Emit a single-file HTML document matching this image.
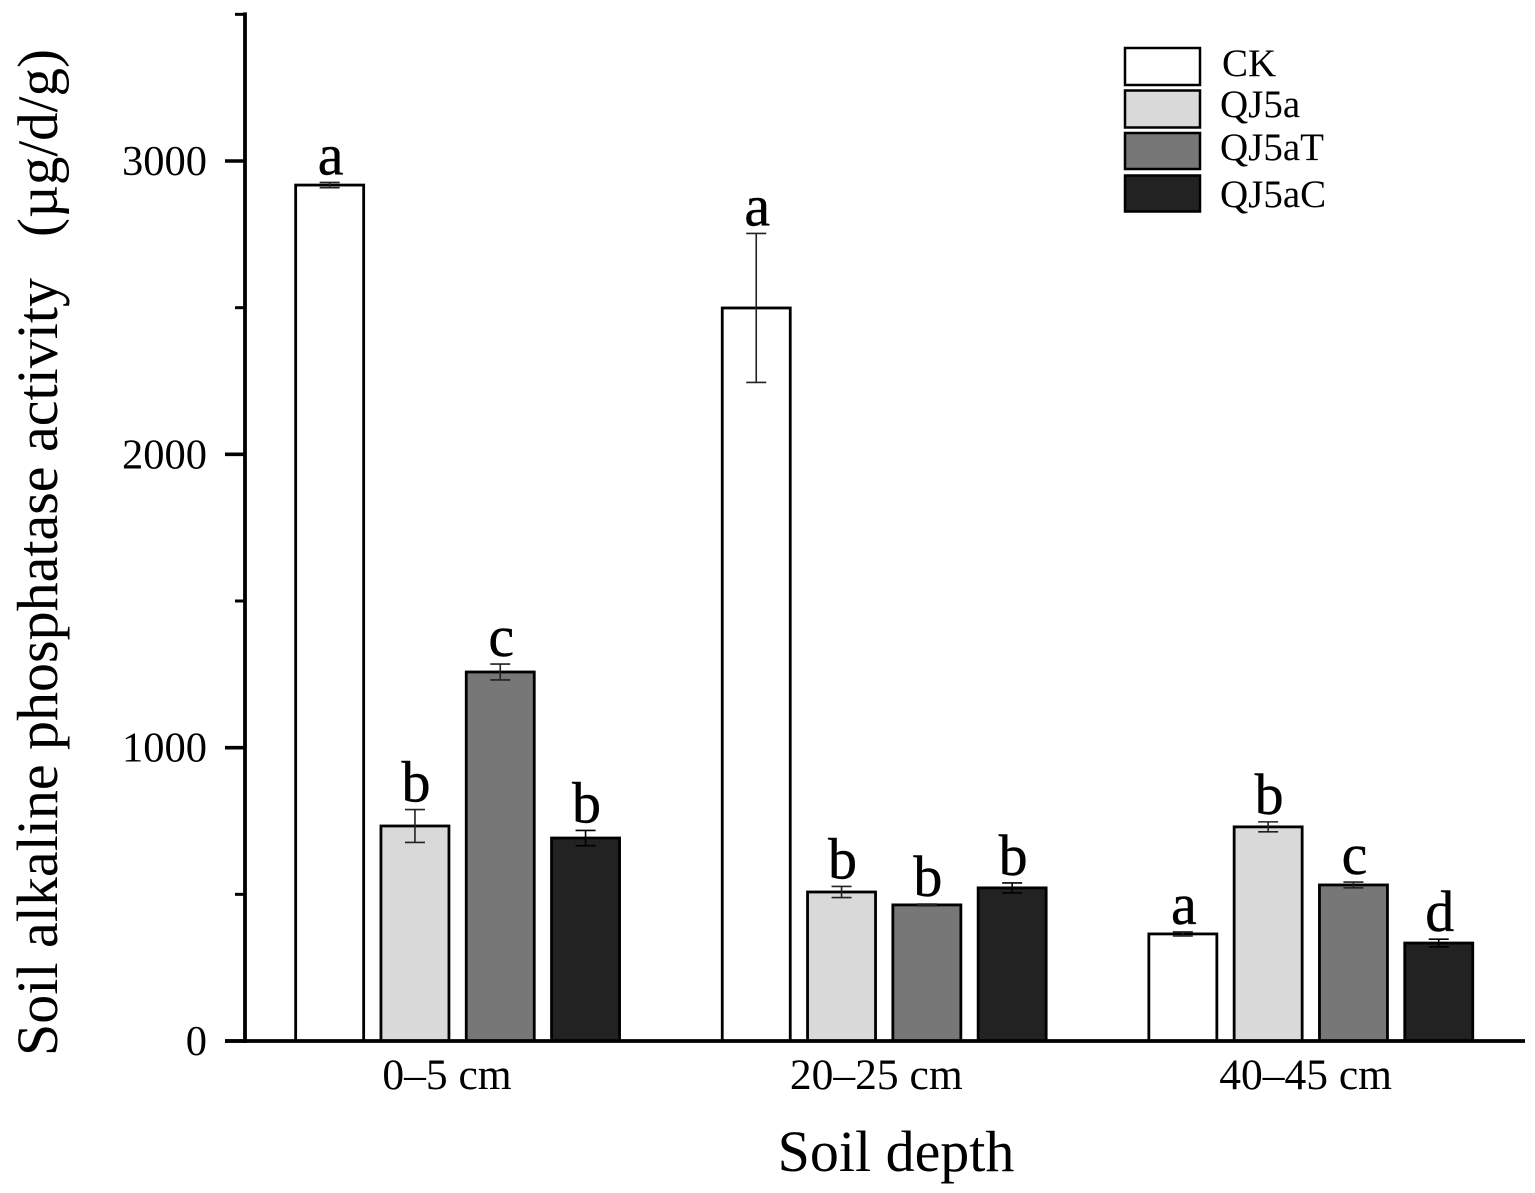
<!DOCTYPE html>
<html lang="en">
<head>
<meta charset="utf-8">
<title>Soil alkaline phosphatase activity by soil depth</title>
<style>
html,body{margin:0;padding:0;background:#fff;width:1535px;height:1193px;overflow:hidden}
svg{display:block}
text{font-family:"Liberation Serif",serif;fill:#000}
</style>
</head>
<body>
<svg id="chart" xmlns="http://www.w3.org/2000/svg" width="1535" height="1193" viewBox="0 0 1535 1193">
  <rect x="0" y="0" width="1535" height="1193" fill="#fff"/>
  <g id="bars"></g>
  <g id="errors"></g>
  <g id="letters" font-size="58" text-anchor="middle" stroke="#000" stroke-width="0.4"></g>
  <g id="yaxis"></g>
  <g id="xaxis"></g>
  <text x="896" y="1171" font-size="58" text-anchor="middle">Soil depth</text>
  <g font-size="58">
    <text transform="translate(57,1056) rotate(-90)">Soil alkaline phosphatase activity</text>
    <text font-size="57" transform="translate(57,237) rotate(-90)">(µg/d/g)</text>
  </g>
  <g font-size="39">
    <g>
      <rect x="1125" y="48" width="75" height="37" fill="#fff" stroke="#000" stroke-width="2.5"/>
      <text x="1222" y="76">CK</text>
    </g>
    <g>
      <rect x="1125" y="90.5" width="75" height="37" fill="#d9d9d9" stroke="#000" stroke-width="2.5"/>
      <text x="1220" y="117">QJ5a</text>
    </g>
    <g>
      <rect x="1125" y="133" width="75" height="36" fill="#777" stroke="#000" stroke-width="2.5"/>
      <text x="1220" y="160">QJ5aT</text>
    </g>
    <g>
      <rect x="1125" y="175.5" width="75" height="36" fill="#222" stroke="#000" stroke-width="2.5"/>
      <text x="1220" y="207">QJ5aC</text>
    </g>
  </g>
</svg>
<script>
const categories = ["0–5 cm", "20–25 cm", "40–45 cm"];
const seriesNames = ["CK", "QJ5a", "QJ5aT", "QJ5aC"];
const seriesFills = ["#ffffff", "#d9d9d9", "#777777", "#222222"];
const valuesCK = [2918, 2499, 365];
const valuesQJ5a = [733, 508, 730];
const valuesQJ5aT = [1258, 464, 532];
const valuesQJ5aC = [692, 522, 334];
const errorsCK = [9, 254, 7];
const errorsQJ5a = [56, 19, 17];
const errorsQJ5aT = [27, 3, 10];
const errorsQJ5aC = [26, 17, 13];
const lettersCK = ["a", "a", "a"];
const lettersQJ5a = ["b", "b", "b"];
const lettersQJ5aT = ["c", "b", "c"];
const lettersQJ5aC = ["b", "b", "d"];
const majorTicks = [0, 1000, 2000, 3000];
const minorTicks = [500, 1500, 2500, 3500];

const allValues = [valuesCK, valuesQJ5a, valuesQJ5aT, valuesQJ5aC];
const allErrors = [errorsCK, errorsQJ5a, errorsQJ5aT, errorsQJ5aC];
const allLetters = [lettersCK, lettersQJ5a, lettersQJ5aT, lettersQJ5aC];

const NS = "http://www.w3.org/2000/svg";
function yScale(v) { return 1041 - v * 0.29333; }
function groupCenter(i) { return 457.6 + i * 426.6; }
function barCenter(i, s) { return groupCenter(i) + (s - 1.5) * 85.3; }
function categoryLabelX(i) { return 447 + i * 429.3; }
function make(tag, parent, attrs) {
  const el = document.createElementNS(NS, tag);
  for (const k in attrs) el.setAttribute(k, attrs[k]);
  parent.appendChild(el);
  return el;
}

const barsG = document.getElementById("bars");
const errG = document.getElementById("errors");
const letG = document.getElementById("letters");
const BAR_W = 68;
const CAP = 10;

seriesNames.forEach(function (name, s) {
  categories.forEach(function (cat, i) {
    const v = allValues[s][i];
    const e = allErrors[s][i];
    const cx = barCenter(i, s);
    const top = yScale(v);

    const bar = make("rect", barsG, { x: cx - BAR_W / 2, y: top, width: BAR_W, height: yScale(0) - top, fill: seriesFills[s], stroke: "#000", "stroke-width": 2.8 });
    
    

    const hi = yScale(v + e);
    const lo = yScale(v - e);
    const eb = make("path", errG, {
      d: "M" + (cx - CAP) + " " + hi + "H" + (cx + CAP) + "M" + cx + " " + hi + "V" + lo + "M" + (cx - CAP) + " " + lo + "H" + (cx + CAP),
      fill: "none", stroke: s === 3 ? "#000" : "#222", "stroke-width": 1.6
    });
    
    

    const t = make("text", letG, { x: cx + 1, y: hi - 8 });
    t.textContent = allLetters[s][i];
    
    
  });
});

const yG = document.getElementById("yaxis");
const yLine = make("line", yG, { x1: 245, x2: 245, y1: yScale(3500) - 2, y2: yScale(0) + 2, stroke: "#000", "stroke-width": 3.8 });



majorTicks.forEach(function (v) {
  const tick = make("line", yG, { x1: 225, x2: 245, y1: yScale(v), y2: yScale(v), stroke: "#000", "stroke-width": 3.6 });
  
  
  const label = make("text", yG, { x: 207, y: yScale(v) + 14, "font-size": 42.5, "text-anchor": "end" });
  label.textContent = String(v);
  
  
});
minorTicks.forEach(function (v) {
  const tick = make("line", yG, { x1: 235, x2: 245, y1: yScale(v), y2: yScale(v), stroke: "#000", "stroke-width": 3 });
  
  
});

const xG = document.getElementById("xaxis");
const xLine = make("line", xG, { x1: 225, x2: 1525, y1: yScale(0), y2: yScale(0), stroke: "#000", "stroke-width": 3.8 });


categories.forEach(function (cat, i) {
  const label = make("text", xG, { x: categoryLabelX(i), y: 1089, "font-size": 43.5, "text-anchor": "middle" });
  label.textContent = cat;
  
  
});
</script>
</body>
</html>
